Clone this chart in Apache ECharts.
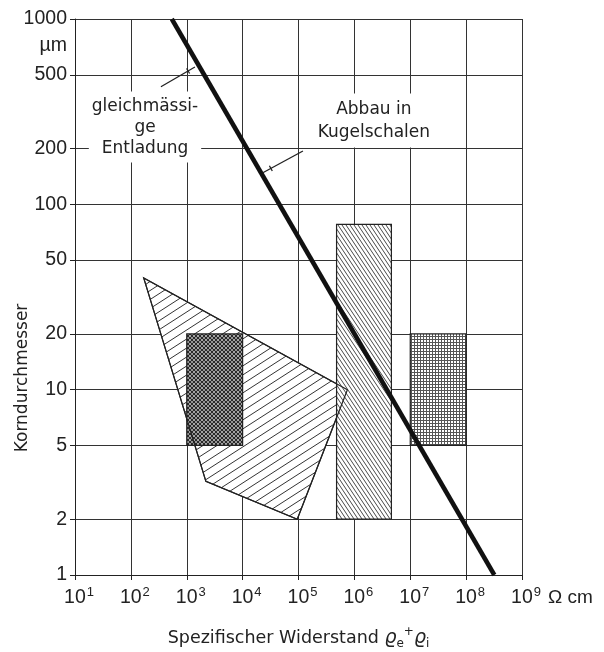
<!DOCTYPE html>
<html>
<head>
<meta charset="utf-8">
<script src="https://cdn.jsdelivr.net/npm/echarts@6/dist/echarts.min.js"></script>
<style>
  html, body { margin: 0; padding: 0; background: #fff; }
  #chart { width: 604px; height: 652px; }
</style>
</head>
<body>
<div id="chart"></div>
<script>
// ---- data ----
const xTicks = [1e1, 1e2, 1e3, 1e4, 1e5, 1e6, 1e7, 1e8, 1e9];
const yTicks = [1, 2, 5, 10, 20, 50, 100, 200, 500, 1000];
const yUnitLabel = 'µm';
const yUnitValue = 720;

// thick boundary line
const lineX = [540, 3.2e8];
const lineY = [1000, 1];

// single-hatched polygon
const polyX = [170, 7.5e5, 9.5e4, 2200];
const polyY = [40, 10, 2, 3.2];

// cross-hatched rectangle
const crossRectX = [1e3, 1e4];
const crossRectY = [5, 20];

// tall hatched rectangle
const tallRectX = [4.8e5, 4.6e6];
const tallRectY = [2, 78];

// fine grid rectangle
const gridRectX = [1e7, 1e8];
const gridRectY = [5, 20];

// annotations
const annoText = ['gleichmässi-\nge\nEntladung', 'Abbau in\nKugelschalen'];
const annoX = [179, 2.23e6];
const annoY = [261, 283];
const leaderFromX = [345, 1.2e5];
const leaderFromY = [431, 194];
const leaderToX = [1400, 2.3e4];
const leaderToY = [551, 148];

// ---- patterns ----
function makePattern(w, h, draw) {
  const c = document.createElement('canvas');
  c.width = w; c.height = h;
  const ctx = c.getContext('2d');
  ctx.fillStyle = '#fff';
  ctx.fillRect(0, 0, w, h);
  draw(ctx, w, h);
  return { image: c, repeat: 'repeat' };
}
const patSlash = makePattern(14, 9, (ctx, w, h) => {
  ctx.strokeStyle = '#333'; ctx.lineWidth = 1;
  for (let k = -1; k <= 1; k++) {
    ctx.beginPath(); ctx.moveTo(-w, 2 * h + k * h); ctx.lineTo(2 * w, -h + k * h); ctx.stroke();
  }
});
const patBack = makePattern(4, 6, (ctx, w, h) => {
  ctx.strokeStyle = '#333'; ctx.lineWidth = 0.9;
  for (let k = -1; k <= 1; k++) {
    ctx.beginPath(); ctx.moveTo(-w + k * w, -h); ctx.lineTo(2 * w + k * w, 2 * h); ctx.stroke();
  }
});
const patCross = makePattern(4, 4, (ctx, w, h) => {
  ctx.strokeStyle = '#2a2a2a'; ctx.lineWidth = 1.3;
  for (let k = -1; k <= 1; k++) {
    ctx.beginPath(); ctx.moveTo(-w + k * w, -h); ctx.lineTo(2 * w + k * w, 2 * h); ctx.stroke();
    ctx.beginPath(); ctx.moveTo(-w + k * w, 2 * h); ctx.lineTo(2 * w + k * w, -h); ctx.stroke();
  }
});
const patGrid = makePattern(3, 3, (ctx, w, h) => {
  ctx.fillStyle = '#555';
  ctx.fillRect(0, 0, w, 1);
  ctx.fillRect(0, 0, 1, h);
});

const tickFont = '"Liberation Sans", Arial, sans-serif';
const textFont = '"DejaVu Sans", sans-serif';
const ink = '#222';

function rectPoints(api, xs, ys) {
  return [
    api.coord([xs[0], ys[0]]), api.coord([xs[1], ys[0]]),
    api.coord([xs[1], ys[1]]), api.coord([xs[0], ys[1]])
  ];
}

const chart = echarts.init(document.getElementById('chart'), null, { renderer: 'canvas' });

chart.setOption({
  backgroundColor: '#fff',
  animation: false,
  grid: { left: 75, right: 82, top: 19, bottom: 77, containLabel: false, outerBoundsMode: 'none' },
  xAxis: {
    type: 'log', logBase: 10, min: 10, max: 1e9, splitNumber: 8,
    axisLine: { show: true, lineStyle: { color: ink, width: 1 } },
    axisTick: { show: true, inside: false, length: 5, customValues: xTicks, lineStyle: { color: ink } },
    splitLine: { show: true, lineStyle: { color: '#333', width: 1 } },
    axisLabel: {
      customValues: xTicks, margin: 11,
      formatter: v => '{p|}{b|10}{s|' + Math.round(Math.log10(v)) + '}',
      rich: {
        p: { width: 8 },
        b: { fontSize: 19.5, fontFamily: tickFont, color: ink, lineHeight: 24 },
        s: { fontSize: 13, fontFamily: tickFont, color: ink, verticalAlign: 'top', lineHeight: 14, padding: [0, 0, 0, 1] }
      }
    },
    name: 'Spezifischer Widerstand {r|ϱ}{sub|e}{sup|+}{r|ϱ}{sub|i}',
    nameLocation: 'middle', nameGap: 51,
    nameTextStyle: {
      fontFamily: textFont, fontSize: 17.5, color: ink, lineHeight: 24,
      rich: {
        r: { fontFamily: textFont, fontSize: 19, color: ink, fontStyle: 'italic', lineHeight: 24 },
        sub: { fontFamily: textFont, fontSize: 12, color: ink, verticalAlign: 'bottom', lineHeight: 14 },
        sup: { fontFamily: textFont, fontSize: 12, color: ink, verticalAlign: 'top', lineHeight: 16 }
      }
    }
  },
  yAxis: {
    type: 'log', logBase: 10, min: 1, max: 1000,
    axisLine: { show: true, lineStyle: { color: ink, width: 1 } },
    axisTick: { show: true, inside: false, length: 5, customValues: yTicks, lineStyle: { color: ink } },
    splitLine: { show: true, lineStyle: { color: '#333', width: 1 } },
    axisLabel: {
      customValues: yTicks.concat([yUnitValue]), margin: 8,
      fontSize: 19.5, fontFamily: tickFont, color: ink,
      formatter: v => (v === yUnitValue ? yUnitLabel : String(v))
    }
  },
  series: [
    {
      type: 'custom', coordinateSystem: 'cartesian2d', z: 2, silent: true,
      data: [[100, 10]],
      renderItem: (params, api) => {
        const polyPts = polyX.map((x, i) => api.coord([x, polyY[i]]));
        return {
          type: 'group',
          children: [
            { type: 'polygon', shape: { points: polyPts }, style: { fill: patSlash, stroke: ink, lineWidth: 1.2 } },
            { type: 'polygon', shape: { points: rectPoints(api, crossRectX, crossRectY) }, style: { fill: patCross, stroke: ink, lineWidth: 1.2 } },
            { type: 'polygon', shape: { points: rectPoints(api, tallRectX, tallRectY) }, style: { fill: patBack, stroke: ink, lineWidth: 1.2 } },
            { type: 'polygon', shape: { points: polyPts }, style: { fill: null, stroke: ink, lineWidth: 1.2 } },
            { type: 'polygon', shape: { points: rectPoints(api, gridRectX, gridRectY) }, style: { fill: patGrid, stroke: ink, lineWidth: 1.2 } }
          ]
        };
      }
    },
    {
      type: 'line', z: 5, silent: true, symbol: 'none',
      data: lineX.map((x, i) => [x, lineY[i]]),
      lineStyle: { color: '#111', width: 4.5 }
    },
    {
      type: 'custom', coordinateSystem: 'cartesian2d', z: 6, silent: true,
      data: annoText.map((t, i) => [annoX[i], annoY[i]]),
      renderItem: (params, api) => {
        const i = params.dataIndex;
        const c = api.coord([annoX[i], annoY[i]]);
        const a = api.coord([leaderFromX[i], leaderFromY[i]]);
        const b = api.coord([leaderToX[i], leaderToY[i]]);
        const dx = b[0] - a[0], dy = b[1] - a[1];
        const len = Math.sqrt(dx * dx + dy * dy);
        const ux = dx / len, uy = dy / len;
        const tx = a[0] + dx * 0.8, ty = a[1] + dy * 0.8;
        const pads = [[4, 3, 4, 3], [2, 9, 6, 9]];
        const lhs = [21, 23];
        return {
          type: 'group',
          children: [
            {
              type: 'text', x: c[0], y: c[1],
              style: {
                text: annoText[i], fill: ink, fontSize: 17, fontFamily: textFont,
                align: 'center', verticalAlign: 'middle', lineHeight: lhs[i],
                backgroundColor: '#fff', padding: pads[i]
              }
            },
            { type: 'line', shape: { x1: a[0], y1: a[1], x2: b[0], y2: b[1] }, style: { stroke: ink, lineWidth: 1.3 } },
            { type: 'line', shape: { x1: tx - uy * 3, y1: ty + ux * 3, x2: tx + uy * 3, y2: ty - ux * 3 }, style: { stroke: ink, lineWidth: 1.3 } }
          ]
        };
      }
    }
  ],
  graphic: [
    {
      type: 'text', x: 23, y: 378, rotation: Math.PI / 2,
      style: { text: 'Korndurchmesser', fill: ink, fontSize: 17, fontFamily: textFont, align: 'center', verticalAlign: 'middle' }
    },
    {
      type: 'text', x: 548, y: 598,
      style: { text: 'Ω cm', fill: ink, fontSize: 19, fontFamily: tickFont, align: 'left', verticalAlign: 'middle' }
    }
  ]
});
</script>
</body>
</html>
